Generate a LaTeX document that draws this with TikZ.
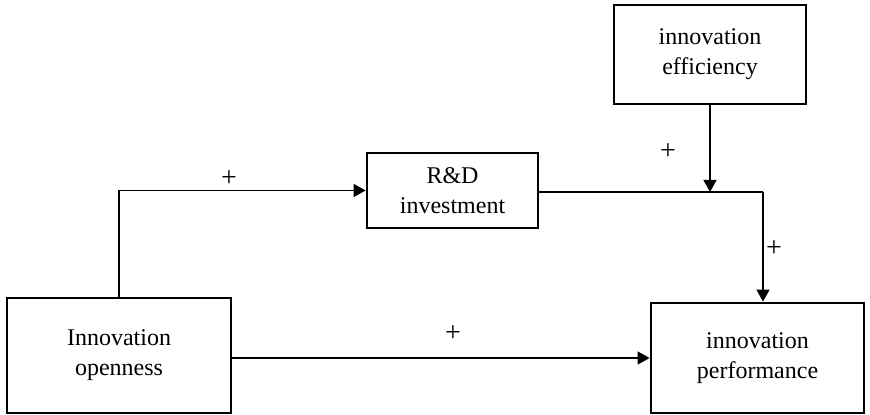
\documentclass[tikz,border=0pt]{standalone}
\usepackage{fontspec}
\setmainfont{Liberation Serif}
\usetikzlibrary{arrows.meta}

\begin{document}
\begin{tikzpicture}[x=0.5pt,y=-0.5pt,
  box/.style={draw,line width=1.4pt,align=center,inner sep=0pt,font=\fontsize{12}{15}\selectfont},
  conn/.style={line width=0.7pt,-{Triangle[length=6pt,width=6.5pt]}},
  sign/.style={font=\fontsize{14}{15}\selectfont,inner sep=0pt}]
\useasboundingbox (0,0) rectangle (870,415);
\node (open) at (119,355.5) [box,minimum width=112pt,minimum height=57.5pt] {Innovation\\openness};
\node (rd) at (452.5,190.5) [box,minimum width=85.5pt,minimum height=37.5pt] {R\&D\\investment};
\node (eff) at (710,54.5) [box,minimum width=96pt,minimum height=49.5pt] {innovation\\efficiency};
\node (perf) at (757.5,358) [box,minimum width=106.5pt,minimum height=55pt] {innovation\\performance};
\coordinate (join) at (710,192);
\coordinate (turn) at (763,192);
% paths
\draw[conn] (open.north) |- (rd.west);
\draw[line width=0.7pt] (rd.east |- join) -- (turn);
\draw[conn] (turn) -- (turn |- perf.north);
\draw[conn] (eff.south) -- (join);
\draw[conn] (open.east |- perf.west) -- (perf.west);
% signs
\node (s1) at (229,179) [sign] {+};
\node (s2) at (668,152) [sign] {+};
\node (s3) at (774,249) [sign] {+};
\node (s4) at (453,334) [sign] {+};
\end{tikzpicture}
\end{document}
